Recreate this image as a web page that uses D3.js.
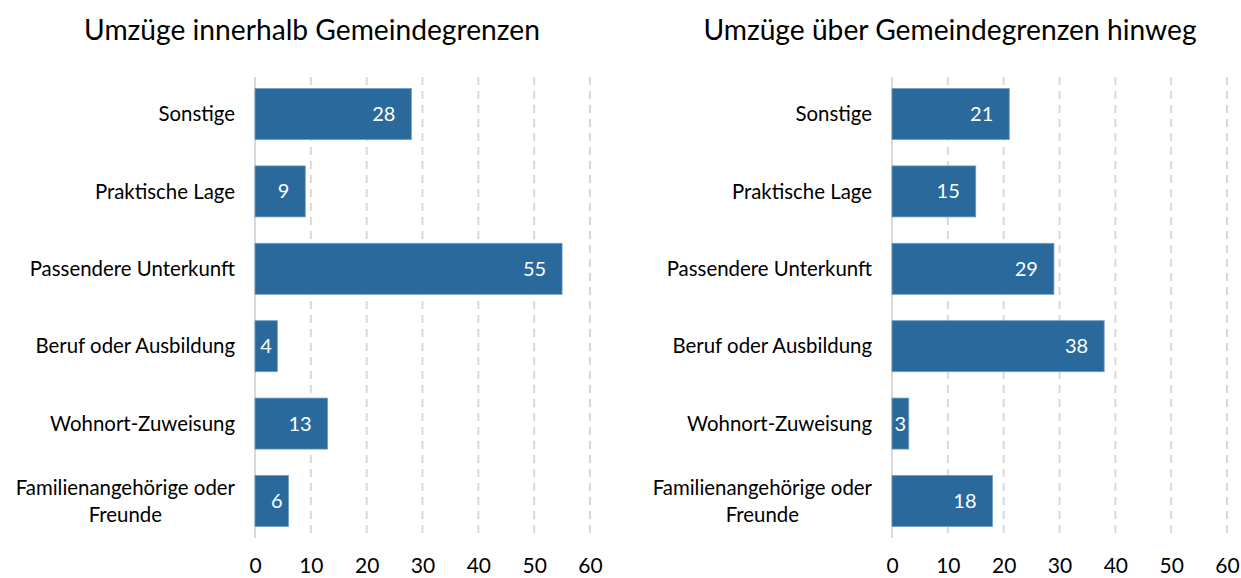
<!DOCTYPE html>
<html>
<head>
<meta charset="utf-8">
<script src="https://cdn.jsdelivr.net/npm/d3@7"></script>
<style>
  html, body { margin: 0; padding: 0; background: #fff; }
  svg { display: block; }
  text { font-family: Lato, "Open Sans", sans-serif; }
</style>
</head>
<body>
<svg id="chart" width="1241" height="578"></svg>
<script>
// Reasons for moving, in percent — two panels with shared categories
const categories = [
  "Sonstige",
  "Praktische Lage",
  "Passendere Unterkunft",
  "Beruf oder Ausbildung",
  "Wohnort-Zuweisung",
  "Familienangehörige oder Freunde"
];
const categoryLines = [
  ["Sonstige"],
  ["Praktische Lage"],
  ["Passendere Unterkunft"],
  ["Beruf oder Ausbildung"],
  ["Wohnort-Zuweisung"],
  ["Familienangehörige oder", "Freunde"]
];
const withinValues = [28, 9, 55, 4, 13, 6];
const acrossValues = [21, 15, 29, 38, 3, 18];
const panelTitles = ["Umzüge innerhalb Gemeindegrenzen", "Umzüge über Gemeindegrenzen hinweg"];
const tickValues = [0, 10, 20, 30, 40, 50, 60];

const svg = d3.select("#chart");
const barColor = "#2a699b";
const gridColor = "#d9d9d9";

const panels = [
  { title: panelTitles[0], values: withinValues, x0: 255, x1: 590, titleX: 312 },
  { title: panelTitles[1], values: acrossValues, x0: 892, x1: 1227, titleX: 950 }
];

const y = d3.scaleBand()
  .domain(categories)
  .range([77, 538])
  .paddingInner(0.341)
  .paddingOuter(0.149);

panels.forEach(p => {
  const g = svg.append("g");
  const x = d3.scaleLinear().domain([0, 60]).range([p.x0, p.x1]);

  // title
  g.append("text")
    .attr("x", p.titleX)
    .attr("y", 40)
    .attr("text-anchor", "middle")
    .attr("font-size", 28.2)
    .attr("fill", "#000")
    .text(p.title);

  // vertical gridlines
  g.selectAll("line.grid")
    .data(tickValues.filter(t => t > 0))
    .join("line")
    .attr("class", "grid")
    .attr("x1", d => x(d)).attr("x2", d => x(d))
    .attr("y1", 77).attr("y2", 538)
    .attr("stroke", gridColor)
    .attr("stroke-width", 2)
    .attr("stroke-dasharray", "8,6");

  // zero axis line
  g.append("line")
    .attr("x1", x(0)).attr("x2", x(0))
    .attr("y1", 77).attr("y2", 538)
    .attr("stroke", gridColor)
    .attr("stroke-width", 2);

  // bottom tick labels via d3 axis
  const axis = d3.axisBottom(x).tickValues(tickValues).tickSize(0).tickPadding(0);
  const ax = g.append("g")
    .attr("transform", "translate(0,558)")
    .call(axis);
  ax.select(".domain").remove();
  ax.selectAll("text")
    .attr("font-family", "Lato, 'Open Sans', sans-serif")
    .attr("font-size", 21)
    .attr("fill", "#000");

  // bars
  g.selectAll("rect.bar")
    .data(p.values.map((v, i) => ({ v, c: categories[i] })))
    .join("rect")
    .attr("class", "bar")
    .attr("x", x(0))
    .attr("y", d => y(d.c))
    .attr("width", d => x(d.v) - x(0))
    .attr("height", y.bandwidth())
    .attr("fill", barColor)
    .attr("stroke", "#6e9cc7")
    .attr("stroke-width", 0.8);

  // value labels inside the bar end
  g.selectAll("text.val")
    .data(p.values.map((v, i) => ({ v, c: categories[i] })))
    .join("text")
    .attr("class", "val")
    .attr("y", d => y(d.c) + y.bandwidth() / 2)
    .attr("dy", "0.35em")
    .attr("font-size", 20)
    .attr("fill", "#fff")
    .text(d => d.v)
    .each(function(d) {
      const tw = this.getComputedTextLength();
      const start = x(0), end = x(d.v);
      let left = end - 16 - tw;
      if (left < start + 16) left = start + 16;
      if (left + tw > end) left = (start + end) / 2 - tw / 2;
      d3.select(this).attr("x", left);
    });

  // category labels
  categoryLines.forEach((lines, i) => {
    const cy = y(categories[i]) + y.bandwidth() / 2;
    const t = g.append("text")
      .attr("font-size", 20.4)
      .attr("fill", "#000");
    if (lines.length === 1) {
      t.attr("x", p.x0 - 20).attr("y", cy).attr("dy", "0.35em")
        .attr("text-anchor", "end").text(lines[0]);
    } else {
      const lh = 27;
      lines.forEach((ln, j) => {
        t.append("tspan").attr("y", cy + (j - (lines.length - 1) / 2) * lh)
          .attr("dy", "0.35em").text(ln);
      });
      let maxW = 0;
      t.selectAll("tspan").each(function() { maxW = Math.max(maxW, this.getComputedTextLength()); });
      t.attr("text-anchor", "middle");
      t.selectAll("tspan").attr("x", p.x0 - 20 - maxW / 2);
    }
  });
});
</script>
</body>
</html>
